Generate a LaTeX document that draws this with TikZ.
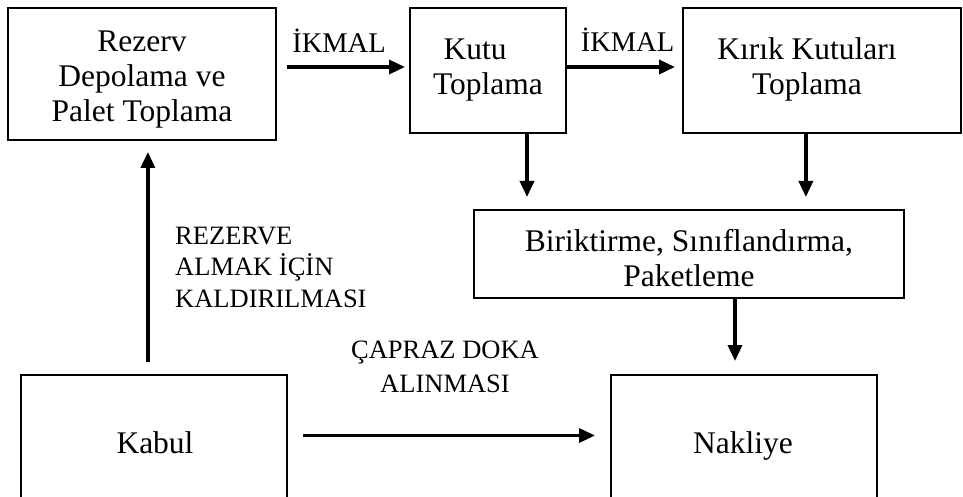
\documentclass[tikz,border=0pt]{standalone}
\usepackage{fontspec}
\setmainfont{Liberation Serif}
\usetikzlibrary{arrows.meta,calc}
\begin{document}
\begin{tikzpicture}[x=1pt,y=-1pt,
  box/.style={draw,line width=1.8pt,rectangle,inner sep=0pt,outer sep=0pt,anchor=north west},
  txt/.style={font=\fontsize{31.5}{35}\selectfont,align=center,anchor=base,inner sep=0pt},
  lbl/.style={font=\fontsize{26.5}{31.5}\selectfont,inner sep=0pt,anchor=base},
  arr/.style={line width=3.5pt,-{Triangle[length=16pt,width=14pt]}}]
\useasboundingbox (0,0) rectangle (963,497);
\clip (0,0) rectangle (963,497);

% process boxes
\node[box,minimum width=268pt,minimum height=132pt] (rez)   at (8,8)     {};
\node[box,minimum width=156pt,minimum height=125pt] (kutu)  at (410,8)   {};
\node[box,minimum width=278pt,minimum height=125pt] (kirik) at (683,8)   {};
\node[box,minimum width=430pt,minimum height=88pt]  (bir)   at (474,210) {};
\node[box,minimum width=266pt,minimum height=140pt] (kabul) at (21,375)  {};
\node[box,minimum width=266pt,minimum height=140pt] (nak)   at (611,375) {};

% box texts (anchored on the baseline of the last line)
\node[txt] (trez)   at (142,121.7) {Rezerv\\Depolama ve\\Palet Toplama};
\node[txt] (tkutu)  at (488,95)    {Kutu\hspace*{26pt}\\Toplama};
\node[txt] (tkirik) at (807,95)    {Kırık Kutuları\\Toplama};
\node[txt] (tbir)   at (689,286.7) {Biriktirme, Sınıflandırma,\\Paketleme};
\node[txt] (tkabul) at (155,453)   {Kabul};
\node[txt] (tnak)   at (743,453)   {Nakliye};

% flows
\draw[arr] ($(rez.east)+(11,-7)$) -- ($(kutu.west)+(-5,-3.5)$);
\draw[arr] ($(kutu.east)+(0,-3.5)$) -- ($(kirik.west)+(-8,-3.5)$);
\coordinate (k1) at ($(kutu.south west)!0.75!(kutu.south east)$);
\draw[arr,shorten >=13pt] (k1) -- (k1 |- bir.north);
\coordinate (k2) at ($(kirik.south west)!0.442!(kirik.south east)$);
\draw[arr,shorten >=13pt] (k2) -- (k2 |- bir.north);
\coordinate (b1) at ($(bir.south west)!0.607!(bir.south east)$);
\draw[arr,shorten >=14pt] (b1) -- (b1 |- nak.north);
\coordinate (u1) at ($(kabul.north west)!0.477!(kabul.north east)$);
\draw[arr,shorten <=13pt,shorten >=12pt] (u1) -- (u1 |- rez.south);
\draw[arr,shorten <=16pt,shorten >=16pt] ($(kabul.north east)+(0,60.5)$) -- ($(nak.north west)+(0,60.5)$);

% flow labels
\node[lbl,font=\fontsize{28.5}{31.5}\selectfont] (ik1) at (339,53) {İKMAL};
\node[lbl,font=\fontsize{28.5}{31.5}\selectfont] (ik2) at (627.5,52) {İKMAL};
\node[lbl,align=left,anchor=base west] (rlbl) at (175,307) {REZERVE\\ALMAK İÇİN\\KALDIRILMASI};
\node[lbl,align=center,font=\fontsize{26.5}{34}\selectfont] (clbl) at (445,392) {ÇAPRAZ DOKA\\ALINMASI};
\end{tikzpicture}
\end{document}
